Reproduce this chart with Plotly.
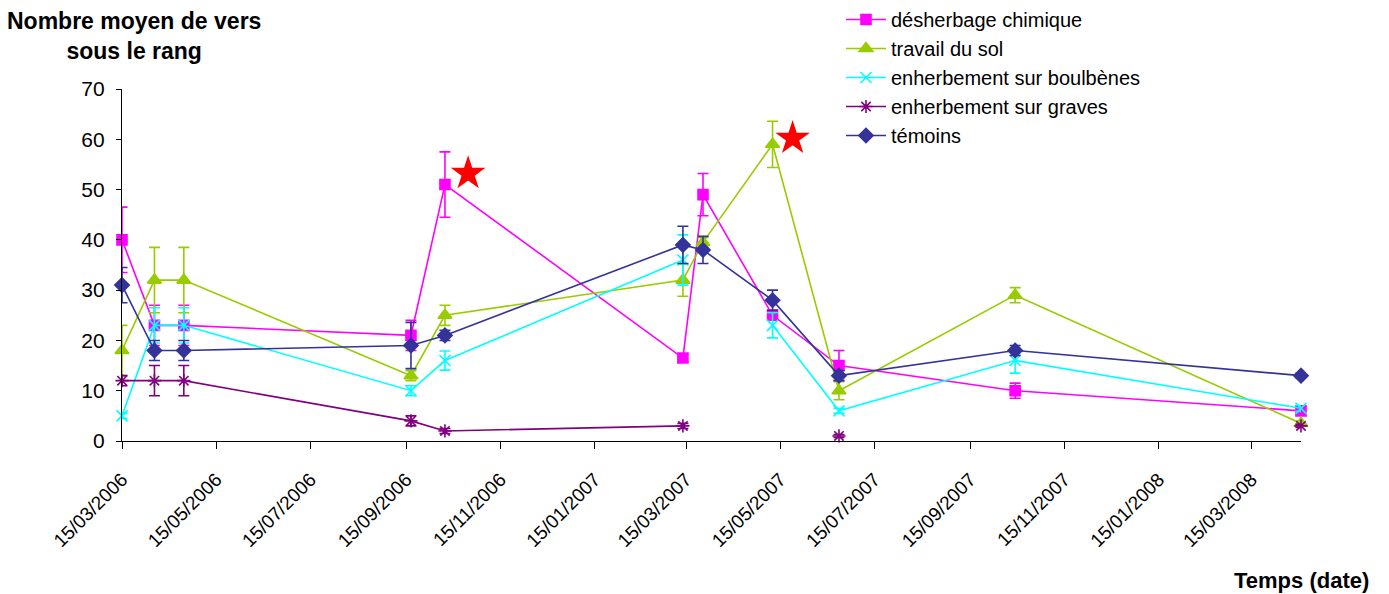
import plotly.graph_objects as go

# ---- data ----
dates = ["2006-03-15", "2006-04-05", "2006-04-24", "2006-09-18", "2006-10-10",
         "2007-03-13", "2007-03-26", "2007-05-10", "2007-06-22", "2007-10-14",
         "2008-04-16"]

desherbage = [40, 23, 23, 21, 51, 16.5, 49, 25, 15, 10, 6]
desherbage_err = [6.5, 4, 4, 3, 6.5, 0.8, 4.2, 1, 3, 1.5, 0.6]

travail = [18, 32, 32, 13, 25, 32, 39.5, 59, 10, 29, 3.5]
travail_err = [5, 6.5, 6.5, 1, 2, 3.2, 1, 4.6, 1.8, 1.5, 0.5]

boulbenes = [5, 23, 23, 10, 16, 36, None, 23, 6, 16, 6.5]
boulbenes_err = [0.5, 3.5, 3.5, 1, 1.9, 5, None, 2.5, 0.5, 2.5, 0.6]

graves = [12, 12, 12, 4, 2, 3, None, None, 1, None, 3]
graves_err = [1, 3, 3, 1, 0.5, 0.5, None, None, 0.3, None, 0.3]

temoins = [31, 18, 18, 19, 21, 39, 38, 28, 13, 18, 13]
temoins_err = [3.5, 2, 2, 4.6, 1, 3.7, 2.7, 2, 1, 1, 0.5]

star_dates = ["2006-10-25", "2007-05-23", "2008-04-29"]
star_values = [53.2, 60.2, 4.2]

tick_dates = ["2006-03-15", "2006-05-15", "2006-07-15", "2006-09-15", "2006-11-15",
              "2007-01-15", "2007-03-15", "2007-05-15", "2007-07-15", "2007-09-15",
              "2007-11-15", "2008-01-15", "2008-03-15"]
tick_labels = ["15/03/2006", "15/05/2006", "15/07/2006", "15/09/2006", "15/11/2006",
               "15/01/2007", "15/03/2007", "15/05/2007", "15/07/2007", "15/09/2007",
               "15/11/2007", "15/01/2008", "15/03/2008"]

series = [
    ("désherbage chimique", desherbage, desherbage_err, "#FF00FF", "square", 10),
    ("travail du sol", travail, travail_err, "#99CC00", "triangle-up", 12),
    ("enherbement sur boulbènes", boulbenes, boulbenes_err, "#00FFFF", "x-thin-open", 11),
    ("enherbement sur graves", graves, graves_err, "#800080", "asterisk-open", 11),
    ("témoins", temoins, temoins_err, "#333399", "diamond", 11),
]

FONT = "Liberation Sans, Arial, sans-serif"
W, H = 1389, 594

fig = go.Figure()
for name, vals, errs, color, sym, size in series:
    fig.add_trace(go.Scatter(
        x=dates, y=vals, name=name, mode="lines+markers",
        line=dict(color=color, width=1.6),
        marker=dict(symbol=sym, size=size, color=color,
                    line=dict(color=color, width=1.6)),
        error_y=dict(type="data", array=errs, visible=True, color=color,
                     thickness=1.6, width=5.5),
        connectgaps=False, cliponaxis=False,
    ))

fig.add_trace(go.Scatter(
    x=star_dates, y=star_values, mode="markers", showlegend=False,
    marker=dict(symbol="star", size=26, color="#FF0000", line=dict(width=0)),
    cliponaxis=False, hoverinfo="skip",
))

fig.update_layout(
    width=W, height=H,
    margin=dict(l=114, r=96, t=81, b=161, autoexpand=False),
    paper_bgcolor="white", plot_bgcolor="white",
    font=dict(family=FONT, color="black", size=19),
    legend=dict(x=719 / 1179, y=441 / 352, xref="paper", yref="paper",
                xanchor="left", yanchor="top",
                font=dict(size=20, family=FONT), bgcolor="rgba(0,0,0,0)",
                tracegroupgap=0, itemwidth=40),
    xaxis=dict(type="date", range=["2006-03-15", "2008-04-16"],
               tickvals=tick_dates, ticktext=tick_labels, tickangle=-45,
               showgrid=False, zeroline=False, showline=True, automargin=False,
               linecolor="black", linewidth=1.2, ticks="outside",
               ticklen=7, tickcolor="black", tickwidth=1.2,
               ticklabelstandoff=12,
               tickfont=dict(size=19, family=FONT)),
    yaxis=dict(range=[0, 70], dtick=10, showgrid=False, zeroline=False,
               showline=True, linecolor="black", linewidth=1.2, automargin=False,
               ticks="outside", ticklen=5, tickcolor="black", tickwidth=1.2,
               tickfont=dict(size=21, family=FONT), ticklabelstandoff=7),
    annotations=[
        dict(text="<b>Nombre moyen de vers<br>sous le rang</b>",
             xref="paper", yref="paper", x=12 / 1179, y=1.151,
             xanchor="center", yanchor="middle", showarrow=False,
             font=dict(size=23, family=FONT)),
        dict(text="<b>Temps (date)</b>", xref="paper", yref="paper",
             x=(1371 - 122) / 1179, y=-0.395, xanchor="right", yanchor="middle",
             showarrow=False, font=dict(size=22, family=FONT)),
    ],
)

fig.write_html("out.html")
